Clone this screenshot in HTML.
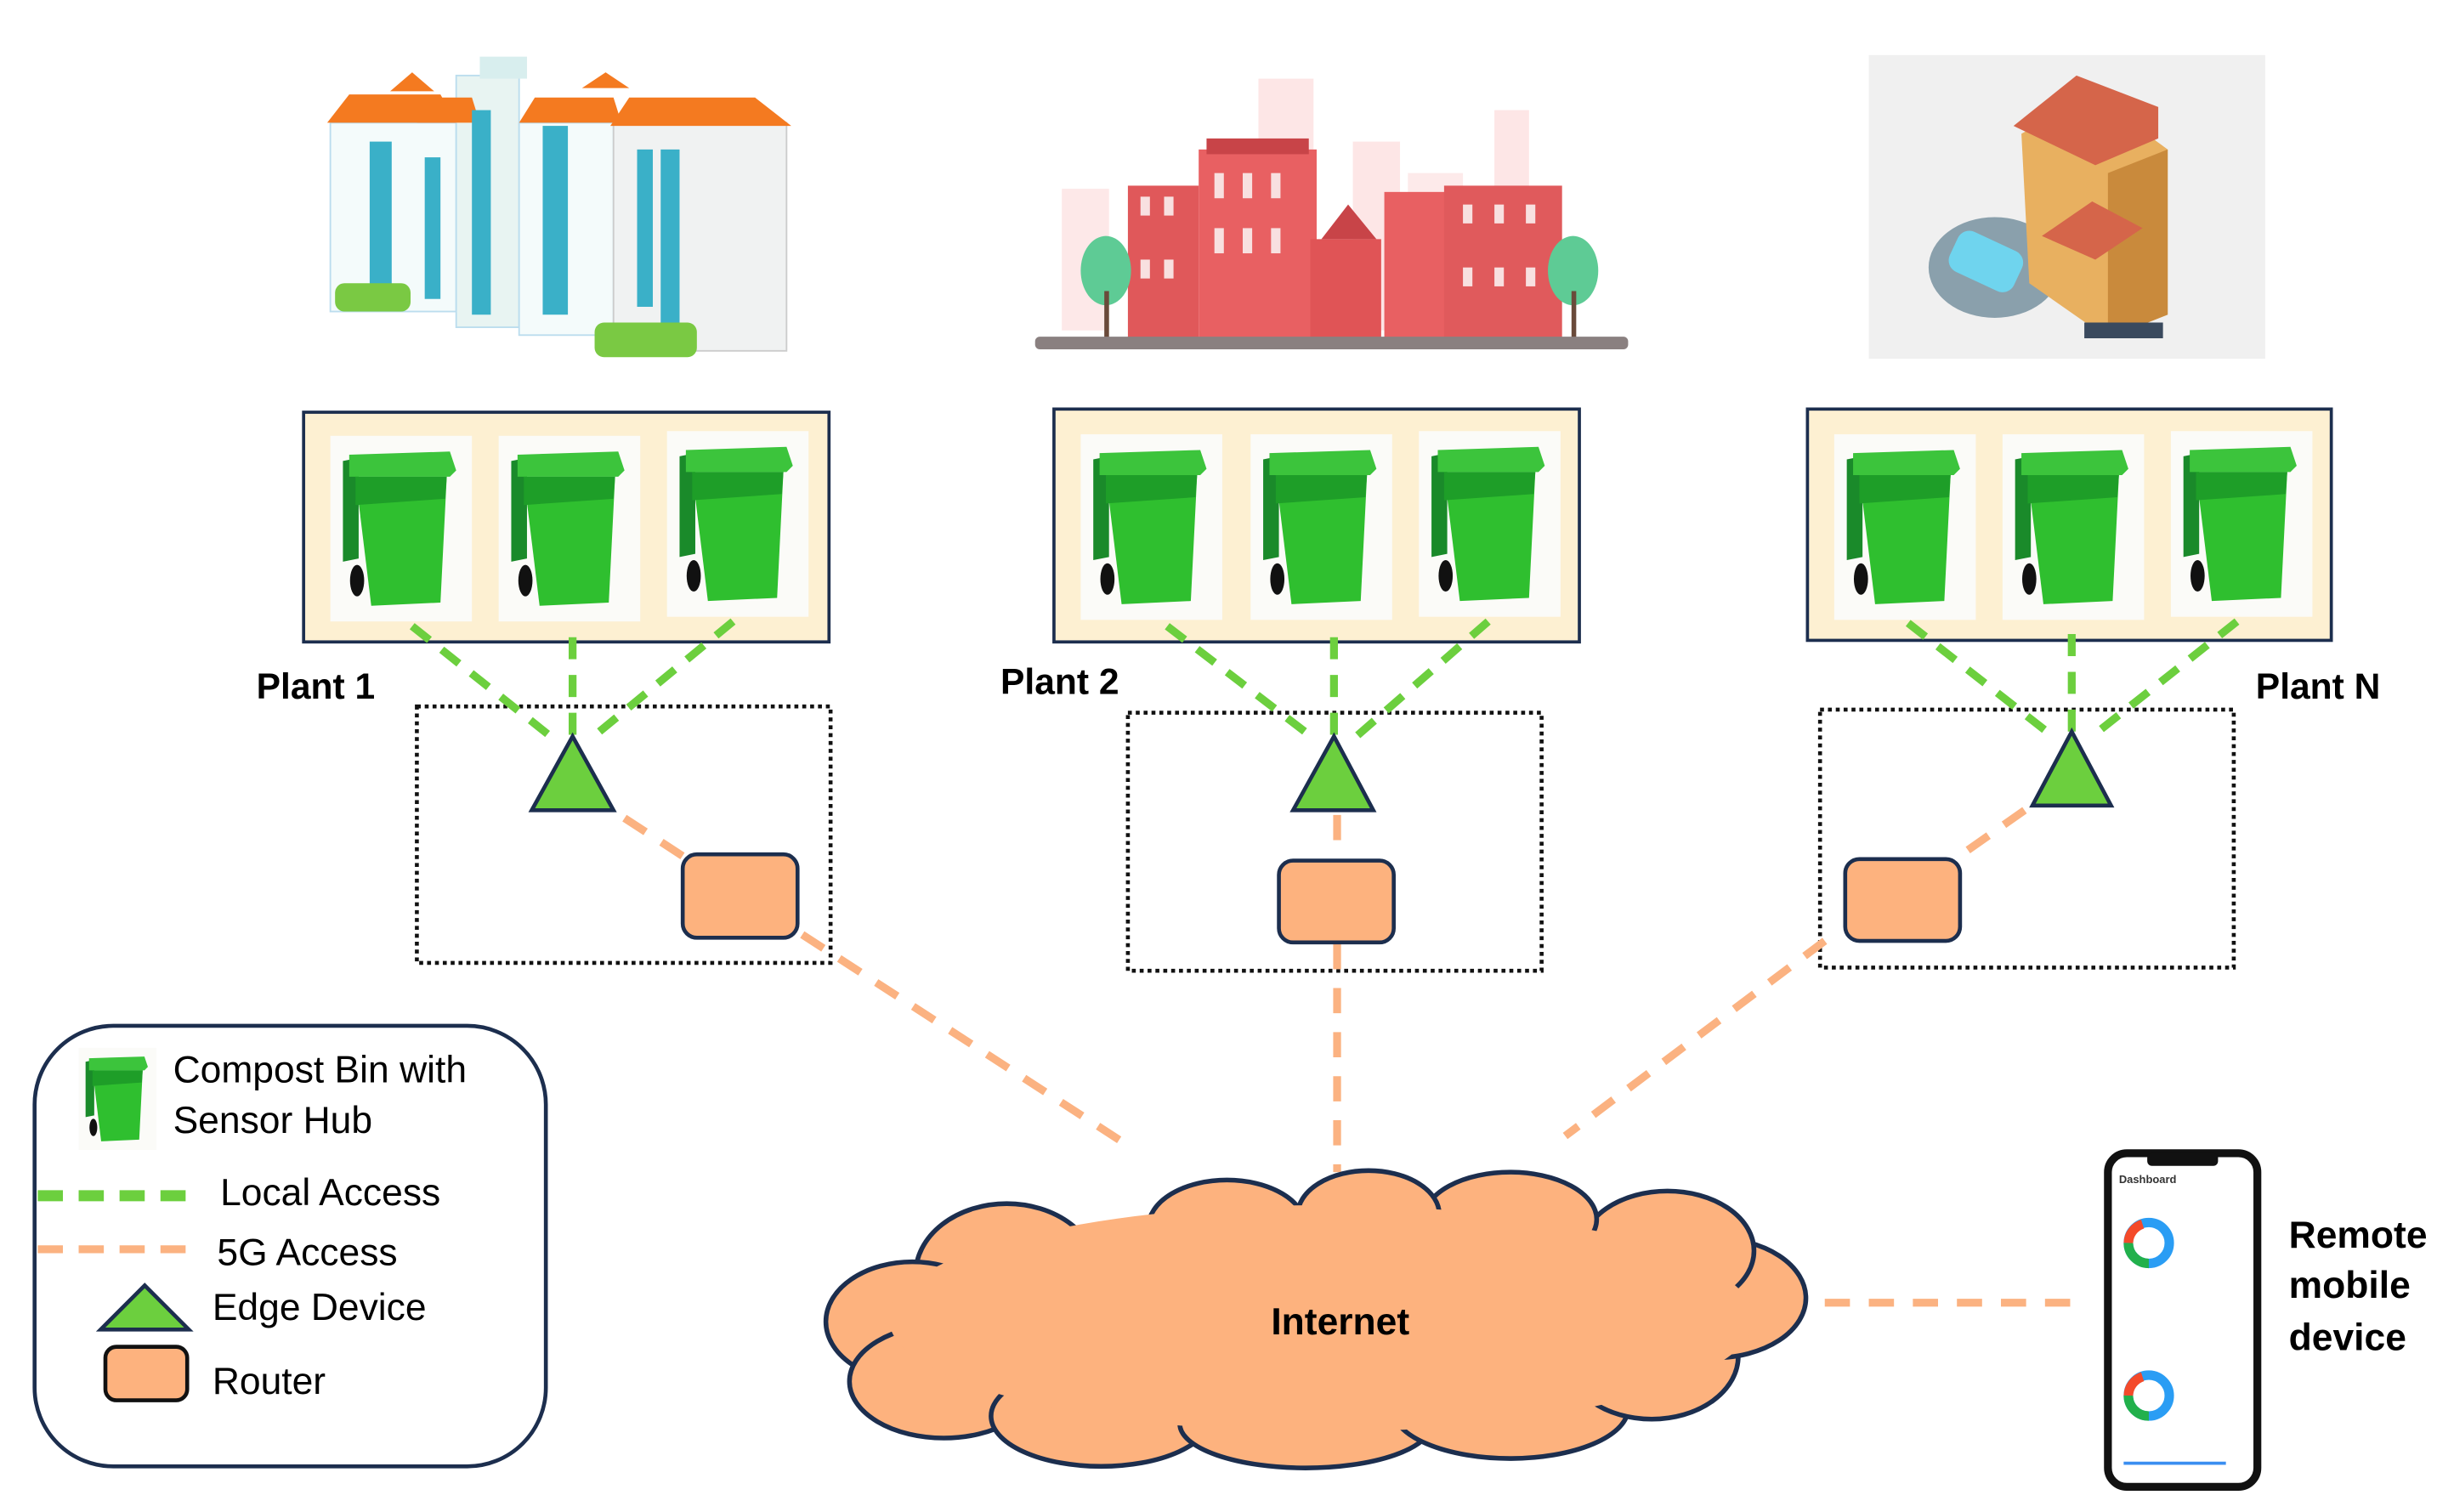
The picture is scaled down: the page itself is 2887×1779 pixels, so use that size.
<!DOCTYPE html>
<html><head><meta charset="utf-8"><style>
html,body{margin:0;padding:0;background:#fff;width:2887px;height:1779px;overflow:hidden}
svg{display:block}
text{font-family:"Liberation Sans",Arial,sans-serif}
</style></head><body>
<svg width="2887" height="1779" viewBox="0 0 1560 961" preserveAspectRatio="none" xmlns="http://www.w3.org/2000/svg">
<defs>
<g id="bin">
<rect x="0" y="0" width="90" height="118" fill="#fbfbf8"/>
<polygon points="8,16 18,14 18,78 8,80" fill="#1a8a2a"/>
<polygon points="12,12 76,10 80,22 76,26 12,26" fill="#3cc43c"/>
<polygon points="16,26 74,26 70,106 26,108" fill="#2fbf2f"/>
<polygon points="16,26 74,26 73,40 16,44" fill="#1e9e28"/>
<ellipse cx="17" cy="92" rx="4.5" ry="10" fill="#111"/>
</g>
</defs>

<!-- Building 1 -->
<g>
<rect x="210" y="78" width="80" height="120" fill="#f4fbfb" stroke="#bde" stroke-width="1"/>
<rect x="290" y="48" width="40" height="160" fill="#e8f4f2" stroke="#bde"/>
<rect x="330" y="78" width="60" height="135" fill="#f4fbfb" stroke="#bde"/>
<rect x="390" y="78" width="110" height="145" fill="#f0f2f2" stroke="#ccc"/>
<polygon points="208,78 222,60 280,60 290,78" fill="#f47a20"/>
<polygon points="265,78 275,62 300,62 305,78" fill="#f47a20"/>
<polygon points="330,78 340,62 390,62 395,78" fill="#f47a20"/>
<polygon points="388,80 400,62 480,62 503,80" fill="#f47a20"/>
<polygon points="248,58 262,46 276,58" fill="#f47a20"/>
<polygon points="370,56 385,46 400,56" fill="#f47a20"/>
<rect x="305" y="36" width="30" height="14" fill="#d8eeee"/>
<g fill="#3ab0c8">
<rect x="235" y="90" width="14" height="95"/><rect x="270" y="100" width="10" height="90"/>
<rect x="300" y="70" width="12" height="130"/><rect x="345" y="80" width="16" height="120"/>
<rect x="405" y="95" width="10" height="100"/><rect x="420" y="95" width="12" height="115"/>
</g>
<g fill="#7ac943"><rect x="213" y="180" width="48" height="18" rx="6"/><rect x="378" y="205" width="65" height="22" rx="6"/></g>
</g>

<!-- Building 2 -->
<g>
<rect x="675" y="120" width="30" height="90" fill="#fde8e8"/>
<rect x="800" y="50" width="35" height="160" fill="#fde6e6"/>
<rect x="860" y="90" width="30" height="120" fill="#fde6e6"/>
<rect x="895" y="110" width="35" height="100" fill="#fdeaea"/>
<rect x="950" y="70" width="22" height="140" fill="#fde6e6"/>
<rect x="717" y="118" width="45" height="98" fill="#e0585a"/>
<rect x="762" y="95" width="75" height="121" fill="#e86062"/>
<rect x="767" y="88" width="65" height="10" fill="#c84448"/>
<rect x="833" y="152" width="45" height="64" fill="#e05456"/>
<rect x="880" y="122" width="40" height="94" fill="#e86062"/>
<rect x="918" y="118" width="75" height="98" fill="#e05a5c"/>
<polygon points="840,152 857,130 875,152" fill="#c84448"/>
<g fill="#f8e0e0"><rect x="725" y="125" width="6" height="12"/><rect x="740" y="125" width="6" height="12"/>
<rect x="772" y="110" width="6" height="16"/><rect x="790" y="110" width="6" height="16"/><rect x="808" y="110" width="6" height="16"/>
<rect x="772" y="145" width="6" height="16"/><rect x="790" y="145" width="6" height="16"/><rect x="808" y="145" width="6" height="16"/>
<rect x="930" y="130" width="6" height="12"/><rect x="950" y="130" width="6" height="12"/><rect x="970" y="130" width="6" height="12"/>
<rect x="930" y="170" width="6" height="12"/><rect x="950" y="170" width="6" height="12"/><rect x="970" y="170" width="6" height="12"/>
<rect x="725" y="165" width="6" height="12"/><rect x="740" y="165" width="6" height="12"/></g>
<ellipse cx="703" cy="172" rx="16" ry="22" fill="#5ecb95"/><rect x="702" y="185" width="3" height="30" fill="#6a4a3a"/>
<ellipse cx="1000" cy="172" rx="16" ry="22" fill="#5ecb95"/><rect x="999" y="185" width="3" height="30" fill="#6a4a3a"/>
<rect x="658" y="214" width="377" height="8" rx="3" fill="#8a8080"/>
</g>

<!-- Building 3 -->
<g>
<rect x="1188" y="35" width="252" height="193" fill="#f0f0f0"/>
<ellipse cx="1268" cy="170" rx="42" ry="32" fill="#8aa0ac"/>
<rect x="1240" y="152" width="45" height="28" rx="8" fill="#6fd4ee" transform="rotate(25 1262 166)"/>
<polygon points="1285,85 1330,60 1378,95 1378,200 1340,215 1290,180" fill="#e8b060"/>
<polygon points="1340,110 1378,95 1378,200 1340,215" fill="#c98a3c"/>
<polygon points="1280,80 1320,48 1372,68 1372,88 1332,105" fill="#d5654a"/>
<polygon points="1298,150 1330,128 1362,145 1332,165" fill="#d5654a"/>
<rect x="1325" y="205" width="50" height="10" fill="#3a4a5e"/>
</g>

<!-- Bin boxes -->
<g stroke="#1c2e4e" stroke-width="2" fill="#fdf0d2">
<rect x="193" y="262" width="334" height="146"/>
<rect x="670" y="260" width="334" height="148"/>
<rect x="1149" y="260" width="333" height="147"/>
</g>
<use href="#bin" x="210" y="277"/><use href="#bin" x="317" y="277"/><use href="#bin" x="424" y="274"/>
<use href="#bin" x="687" y="276"/><use href="#bin" x="795" y="276"/><use href="#bin" x="902" y="274"/>
<use href="#bin" x="1166" y="276"/><use href="#bin" x="1273" y="276"/><use href="#bin" x="1380" y="274"/>

<!-- Dotted boxes -->
<g fill="none" stroke="#111" stroke-width="2.5" stroke-dasharray="2.5 2.5">
<rect x="265" y="449" width="263" height="163"/>
<rect x="717" y="453" width="263" height="164"/>
<rect x="1157" y="451" width="263" height="164"/>
</g>

<!-- Green dashes -->
<g stroke="#6ccf3e" stroke-width="5" stroke-dasharray="14 10" fill="none">
<line x1="262" y1="398" x2="355" y2="472"/><line x1="364" y1="405" x2="364" y2="470"/><line x1="466" y1="395" x2="375" y2="470"/>
<line x1="742" y1="398" x2="836" y2="470"/><line x1="848" y1="405" x2="848" y2="468"/><line x1="946" y1="395" x2="860" y2="470"/>
<line x1="1213" y1="396" x2="1305" y2="468"/><line x1="1317" y1="403" x2="1317" y2="466"/><line x1="1422" y1="395" x2="1330" y2="468"/>
</g>

<!-- Orange dashes -->
<g stroke="#fbb281" stroke-width="5" stroke-dasharray="16 12" fill="none">
<line x1="397" y1="520" x2="440" y2="548"/>
<line x1="510" y1="594" x2="720" y2="730"/>
<line x1="850" y1="518" x2="850" y2="547"/>
<line x1="850" y1="600" x2="850" y2="745"/>
<line x1="1287" y1="515" x2="1240" y2="548"/>
<line x1="1160" y1="598" x2="995" y2="722"/>
<line x1="1160" y1="828" x2="1325" y2="828"/>
</g>

<!-- Triangles -->
<g fill="#6ccf3e" stroke="#1c2e4e" stroke-width="2.5">
<polygon points="364,468 338,515 390,515"/>
<polygon points="848,468 822,515 873,515"/>
<polygon points="1317,465 1292,512 1342,512"/>
</g>
<!-- Routers -->
<g fill="#fdb27e" stroke="#1c2e4e" stroke-width="2.5">
<rect x="434" y="543" width="73" height="53" rx="9"/>
<rect x="813" y="547" width="73" height="52" rx="9"/>
<rect x="1173" y="546" width="73" height="52" rx="9"/>
</g>

<!-- Labels -->
<g font-weight="bold" font-size="23" fill="#000">
<text x="163" y="444">Plant 1</text>
<text x="636" y="441">Plant 2</text>
<text x="1434" y="444">Plant N</text>
</g>

<!-- Cloud -->
<g stroke="#1c2e4e" stroke-width="3" fill="#fdb27e">
<ellipse cx="640" cy="810" rx="58" ry="45"/>
<ellipse cx="580" cy="840" rx="55" ry="38"/>
<ellipse cx="600" cy="878" rx="60" ry="36"/>
<ellipse cx="700" cy="900" rx="70" ry="32"/>
<ellipse cx="830" cy="905" rx="80" ry="28"/>
<ellipse cx="960" cy="895" rx="75" ry="32"/>
<ellipse cx="1050" cy="862" rx="55" ry="40"/>
<ellipse cx="1090" cy="825" rx="58" ry="38"/>
<ellipse cx="1060" cy="795" rx="55" ry="38"/>
<ellipse cx="960" cy="775" rx="55" ry="30"/>
<ellipse cx="870" cy="772" rx="45" ry="28"/>
<ellipse cx="780" cy="780" rx="50" ry="30"/>
</g>
<ellipse cx="840" cy="838" rx="275" ry="72" fill="#fdb27e"/>
<text x="852" y="848" font-size="24" font-weight="bold" text-anchor="middle">Internet</text>

<!-- Legend -->
<rect x="22" y="652" width="325" height="280" rx="50" fill="#fff" stroke="#1c2e4e" stroke-width="2.5"/>
<g transform="translate(50,666) scale(0.55)"><use href="#bin"/></g>
<g font-size="24" fill="#000">
<text x="110" y="688">Compost Bin with</text>
<text x="110" y="720">Sensor Hub</text>
<text x="140" y="766">Local Access</text>
<text x="138" y="804">5G Access</text>
<text x="135" y="839">Edge Device</text>
<text x="135" y="886">Router</text>
</g>
<line x1="24" y1="760" x2="125" y2="760" stroke="#6ccf3e" stroke-width="7" stroke-dasharray="16 10"/>
<line x1="24" y1="794" x2="125" y2="794" stroke="#fbb281" stroke-width="5" stroke-dasharray="16 10"/>
<polygon points="92,817 64,845 120,845" fill="#6ccf3e" stroke="#1c2e4e" stroke-width="2.5"/>
<rect x="67" y="856" width="52" height="34" rx="7" fill="#fdb27e" stroke="#111" stroke-width="2.5"/>

<!-- Phone -->
<rect x="1340" y="733" width="95" height="212" rx="12" fill="#fff" stroke="#111" stroke-width="5"/>
<rect x="1365" y="733" width="45" height="8" rx="3" fill="#111"/>
<text x="1347" y="752" font-size="7" font-weight="bold" fill="#333">Dashboard</text>
<g fill="none" stroke-width="6">
<circle cx="1366" cy="790" r="13" stroke="#2a9df4"/>
<path d="M1366 803 A13 13 0 0 1 1353 790" stroke="#22b04b"/>
<path d="M1353 790 A13 13 0 0 1 1362 778" stroke="#f44a2a"/>
<circle cx="1366" cy="887" r="13" stroke="#2a9df4"/>
<path d="M1366 900 A13 13 0 0 1 1353 887" stroke="#22b04b"/>
<path d="M1353 887 A13 13 0 0 1 1362 875" stroke="#f44a2a"/>
</g>
<rect x="1350" y="929" width="65" height="2" fill="#3a8ef0"/>
<g font-weight="bold" font-size="24" fill="#000">
<text x="1455" y="793">Remote</text>
<text x="1455" y="825">mobile</text>
<text x="1455" y="858">device</text>
</g>
</svg>
</body></html>
